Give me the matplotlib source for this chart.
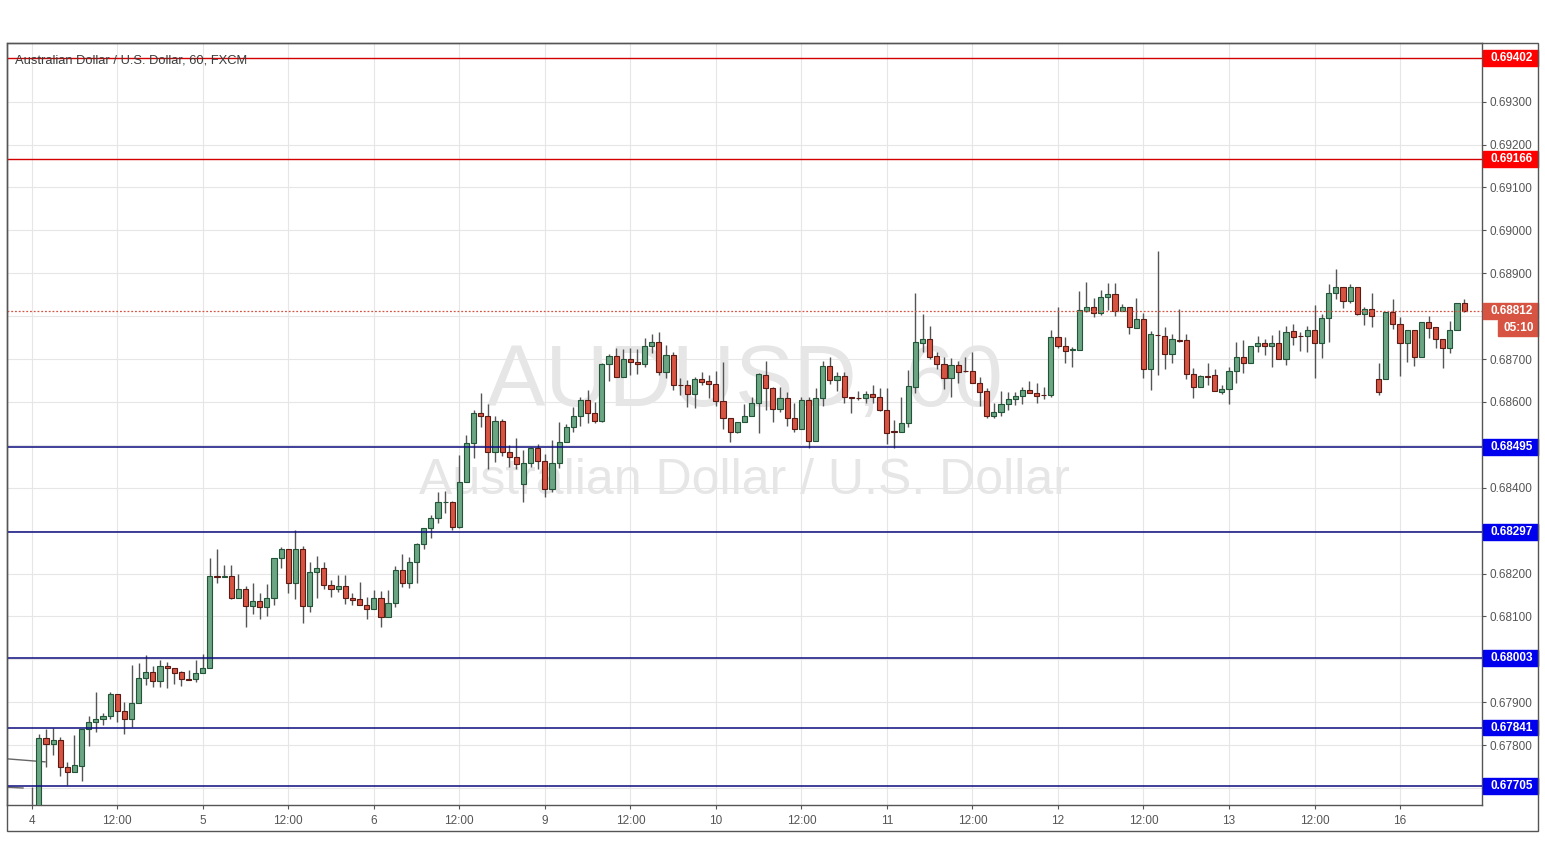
import numpy as np
import matplotlib
matplotlib.use('Agg')
from matplotlib import pyplot as plt
from matplotlib.patches import Rectangle

plt.rcParams['font.family'] = ['Liberation Sans', 'DejaVu Sans']

# hourly AUD/USD candles, index 0 = day 4 00:00 (weekend hours skipped)
opens = [0.67620, 0.67640, 0.67816, 0.67802, 0.67812, 0.67750, 0.67738, 0.67752, 0.67837, 0.67854,
         0.67862, 0.67867, 0.67919, 0.67880, 0.67860, 0.67897, 0.67956, 0.67970, 0.67949, 0.67985,
         0.67979, 0.67971, 0.67954, 0.67953, 0.67967, 0.67979, 0.68194, 0.68193, 0.68194, 0.68142,
         0.68163, 0.68124, 0.68136, 0.68121, 0.68142, 0.68235, 0.68256, 0.68177, 0.68256, 0.68125,
         0.68204, 0.68214, 0.68174, 0.68165, 0.68172, 0.68142, 0.68140, 0.68127, 0.68117, 0.68142,
         0.68099, 0.68132, 0.68208, 0.68179, 0.68227, 0.68269, 0.68305, 0.68329, 0.68366, 0.68367,
         0.68308, 0.68413, 0.68504, 0.68573, 0.68568, 0.68483, 0.68555, 0.68484, 0.68471, 0.68408,
         0.68457, 0.68492, 0.68462, 0.68396, 0.68457, 0.68507, 0.68541, 0.68566, 0.68604, 0.68573,
         0.68556, 0.68688, 0.68707, 0.68657, 0.68699, 0.68694, 0.68688, 0.68730, 0.68739, 0.68669,
         0.68709, 0.68640, 0.68639, 0.68618, 0.68653, 0.68649, 0.68641, 0.68603, 0.68562, 0.68531,
         0.68552, 0.68567, 0.68597, 0.68663, 0.68632, 0.68583, 0.68608, 0.68562, 0.68537, 0.68604,
         0.68510, 0.68608, 0.68684, 0.68651, 0.68660, 0.68611, 0.68610, 0.68608, 0.68618, 0.68611,
         0.68581, 0.68531, 0.68531, 0.68550, 0.68635, 0.68738, 0.68746, 0.68707, 0.68688, 0.68655,
         0.68686, 0.68672, 0.68672, 0.68643, 0.68625, 0.68566, 0.68576, 0.68594, 0.68606, 0.68614,
         0.68628, 0.68620, 0.68616, 0.68615, 0.68751, 0.68731, 0.68722, 0.68721, 0.68813, 0.68822,
         0.68808, 0.68845, 0.68851, 0.68813, 0.68822, 0.68773, 0.68793, 0.68676, 0.68756, 0.68754,
         0.68711, 0.68745, 0.68744, 0.68664, 0.68634, 0.68660, 0.68663, 0.68624, 0.68630, 0.68672,
         0.68704, 0.68690, 0.68730, 0.68737, 0.68731, 0.68737, 0.68700, 0.68765, 0.68754, 0.68754,
         0.68767, 0.68738, 0.68795, 0.68855, 0.68867, 0.68836, 0.68867, 0.68804, 0.68816, 0.68653,
         0.68653, 0.68809, 0.68781, 0.68737, 0.68768, 0.68705, 0.68786, 0.68774, 0.68746, 0.68725,
         0.68767, 0.68830]
highs = [0.67703, 0.67827, 0.67837, 0.67839, 0.67820, 0.67760, 0.67824, 0.67837, 0.67867, 0.67923,
         0.67876, 0.67923, 0.67919, 0.67900, 0.67987, 0.67991, 0.68010, 0.67985, 0.67998, 0.67994,
         0.67979, 0.67973, 0.67975, 0.67998, 0.68012, 0.68237, 0.68256, 0.68220, 0.68220, 0.68200,
         0.68171, 0.68178, 0.68155, 0.68176, 0.68235, 0.68261, 0.68256, 0.68302, 0.68264, 0.68226,
         0.68241, 0.68226, 0.68185, 0.68197, 0.68197, 0.68154, 0.68181, 0.68146, 0.68162, 0.68160,
         0.68162, 0.68218, 0.68245, 0.68238, 0.68272, 0.68305, 0.68336, 0.68389, 0.68393, 0.68370,
         0.68476, 0.68524, 0.68581, 0.68621, 0.68594, 0.68566, 0.68559, 0.68500, 0.68517, 0.68488,
         0.68496, 0.68503, 0.68479, 0.68511, 0.68552, 0.68548, 0.68589, 0.68611, 0.68628, 0.68600,
         0.68691, 0.68711, 0.68726, 0.68723, 0.68725, 0.68723, 0.68748, 0.68758, 0.68762, 0.68733,
         0.68716, 0.68655, 0.68651, 0.68659, 0.68669, 0.68663, 0.68672, 0.68694, 0.68562, 0.68554,
         0.68594, 0.68612, 0.68667, 0.68695, 0.68635, 0.68635, 0.68624, 0.68597, 0.68611, 0.68612,
         0.68632, 0.68695, 0.68704, 0.68670, 0.68670, 0.68611, 0.68625, 0.68625, 0.68639, 0.68632,
         0.68632, 0.68558, 0.68612, 0.68674, 0.68853, 0.68805, 0.68778, 0.68717, 0.68704, 0.68702,
         0.68695, 0.68705, 0.68717, 0.68657, 0.68632, 0.68597, 0.68625, 0.68622, 0.68624, 0.68635,
         0.68649, 0.68643, 0.68634, 0.68768, 0.68821, 0.68752, 0.68727, 0.68859, 0.68879, 0.68843,
         0.68861, 0.68877, 0.68878, 0.68828, 0.68822, 0.68843, 0.68807, 0.68766, 0.68952, 0.68774,
         0.68758, 0.68816, 0.68758, 0.68678, 0.68663, 0.68690, 0.68677, 0.68639, 0.68682, 0.68740,
         0.68744, 0.68730, 0.68754, 0.68747, 0.68756, 0.68768, 0.68777, 0.68782, 0.68764, 0.68778,
         0.68826, 0.68804, 0.68874, 0.68910, 0.68867, 0.68876, 0.68867, 0.68822, 0.68855, 0.68691,
         0.68810, 0.68839, 0.68799, 0.68768, 0.68768, 0.68787, 0.68800, 0.68774, 0.68746, 0.68789,
         0.68830, 0.68841]
lows = [0.67580, 0.67600, 0.67749, 0.67777, 0.67727, 0.67706, 0.67737, 0.67716, 0.67799, 0.67830,
        0.67847, 0.67862, 0.67853, 0.67825, 0.67843, 0.67897, 0.67939, 0.67936, 0.67935, 0.67934,
        0.67943, 0.67938, 0.67952, 0.67948, 0.67967, 0.67979, 0.68177, 0.68193, 0.68140, 0.68142,
        0.68075, 0.68105, 0.68095, 0.68102, 0.68127, 0.68214, 0.68154, 0.68141, 0.68084, 0.68111,
        0.68142, 0.68163, 0.68146, 0.68158, 0.68130, 0.68127, 0.68127, 0.68095, 0.68117, 0.68075,
        0.68099, 0.68121, 0.68169, 0.68167, 0.68179, 0.68256, 0.68282, 0.68317, 0.68340, 0.68301,
        0.68305, 0.68413, 0.68469, 0.68542, 0.68444, 0.68461, 0.68475, 0.68448, 0.68443, 0.68367,
        0.68449, 0.68443, 0.68378, 0.68391, 0.68445, 0.68507, 0.68531, 0.68544, 0.68550, 0.68550,
        0.68552, 0.68649, 0.68657, 0.68657, 0.68663, 0.68664, 0.68682, 0.68713, 0.68663, 0.68655,
        0.68628, 0.68616, 0.68587, 0.68585, 0.68639, 0.68608, 0.68591, 0.68538, 0.68507, 0.68527,
        0.68552, 0.68567, 0.68527, 0.68581, 0.68554, 0.68577, 0.68544, 0.68531, 0.68537, 0.68492,
        0.68510, 0.68590, 0.68642, 0.68626, 0.68597, 0.68573, 0.68604, 0.68597, 0.68598, 0.68579,
        0.68503, 0.68492, 0.68531, 0.68541, 0.68621, 0.68717, 0.68700, 0.68676, 0.68630, 0.68612,
        0.68643, 0.68670, 0.68643, 0.68590, 0.68562, 0.68563, 0.68566, 0.68581, 0.68593, 0.68595,
        0.68620, 0.68598, 0.68606, 0.68611, 0.68725, 0.68690, 0.68681, 0.68721, 0.68810, 0.68797,
        0.68803, 0.68814, 0.68801, 0.68813, 0.68758, 0.68773, 0.68655, 0.68628, 0.68663, 0.68676,
        0.68690, 0.68740, 0.68653, 0.68608, 0.68634, 0.68639, 0.68625, 0.68618, 0.68594, 0.68643,
        0.68667, 0.68690, 0.68717, 0.68709, 0.68682, 0.68699, 0.68686, 0.68733, 0.68719, 0.68717,
        0.68655, 0.68703, 0.68740, 0.68841, 0.68818, 0.68830, 0.68802, 0.68779, 0.68775, 0.68616,
        0.68653, 0.68770, 0.68661, 0.68694, 0.68684, 0.68705, 0.68750, 0.68726, 0.68680, 0.68713,
        0.68767, 0.68809]
closes = [0.67640, 0.67816, 0.67802, 0.67812, 0.67750, 0.67738, 0.67754, 0.67837, 0.67854, 0.67862,
          0.67868, 0.67919, 0.67880, 0.67860, 0.67897, 0.67956, 0.67970, 0.67949, 0.67985, 0.67979,
          0.67969, 0.67953, 0.67952, 0.67967, 0.67979, 0.68194, 0.68193, 0.68194, 0.68142, 0.68163,
          0.68124, 0.68136, 0.68121, 0.68142, 0.68235, 0.68256, 0.68177, 0.68256, 0.68125, 0.68204,
          0.68214, 0.68174, 0.68165, 0.68172, 0.68142, 0.68138, 0.68127, 0.68117, 0.68142, 0.68099,
          0.68132, 0.68208, 0.68179, 0.68227, 0.68269, 0.68305, 0.68329, 0.68366, 0.68367, 0.68308,
          0.68413, 0.68504, 0.68573, 0.68568, 0.68483, 0.68555, 0.68484, 0.68471, 0.68455, 0.68457,
          0.68492, 0.68462, 0.68396, 0.68457, 0.68507, 0.68541, 0.68566, 0.68604, 0.68573, 0.68556,
          0.68688, 0.68707, 0.68657, 0.68699, 0.68694, 0.68688, 0.68730, 0.68739, 0.68669, 0.68709,
          0.68639, 0.68639, 0.68618, 0.68653, 0.68647, 0.68641, 0.68603, 0.68562, 0.68531, 0.68552,
          0.68567, 0.68597, 0.68664, 0.68632, 0.68583, 0.68608, 0.68562, 0.68537, 0.68604, 0.68510,
          0.68608, 0.68684, 0.68651, 0.68660, 0.68611, 0.68610, 0.68609, 0.68618, 0.68611, 0.68581,
          0.68528, 0.68530, 0.68550, 0.68637, 0.68740, 0.68746, 0.68705, 0.68688, 0.68655, 0.68686,
          0.68670, 0.68671, 0.68643, 0.68624, 0.68566, 0.68576, 0.68594, 0.68606, 0.68614, 0.68628,
          0.68620, 0.68614, 0.68615, 0.68751, 0.68731, 0.68719, 0.68723, 0.68814, 0.68822, 0.68808,
          0.68845, 0.68851, 0.68813, 0.68822, 0.68774, 0.68793, 0.68676, 0.68758, 0.68755, 0.68711,
          0.68746, 0.68743, 0.68664, 0.68634, 0.68660, 0.68659, 0.68625, 0.68630, 0.68672, 0.68704,
          0.68690, 0.68730, 0.68737, 0.68731, 0.68737, 0.68699, 0.68764, 0.68752, 0.68753, 0.68767,
          0.68738, 0.68795, 0.68855, 0.68867, 0.68836, 0.68867, 0.68804, 0.68816, 0.68800, 0.68624,
          0.68809, 0.68781, 0.68737, 0.68768, 0.68705, 0.68786, 0.68773, 0.68747, 0.68725, 0.68767,
          0.68830, 0.68812]

# time axis labels, one every 12 candles
time_labels = ['4', '12:00', '5', '12:00', '6', '12:00', '9', '12:00', '10', '12:00',
               '11', '12:00', '12', '12:00', '13', '12:00', '16']

resistance_levels = [0.69402, 0.69166]
support_levels = [0.68495, 0.68297, 0.68003, 0.67841, 0.67705]
last_price = 0.68812
countdown = '05:10'

# old grey trendline stubs at the left edge
trend_x = [[-3.47, 1.87], [-3.47, -1.22]]
trend_y = [[0.67768, 0.67761], [0.67702, 0.67700]]

UP, DOWN = '#6ba583', '#d75442'
UP_EDGE, DOWN_EDGE = '#225437', '#5b1a13'
RES_LINE, RES_BOX = '#d40000', '#ff0000'
SUP_LINE, SUP_BOX = '#0c0c80', '#0000ee'

W, H = 1545, 868
fig = plt.figure(figsize=(W / 100, H / 100), dpi=100)
ax = fig.add_axes([7 / W, 1 - 805 / H, (1482 - 7) / W, (805 - 43) / H])
ylim = (0.676604, 0.694366)
ax.set_xlim(-3.47, 203.5)
ax.set_ylim(*ylim)

o = np.array(opens)
c = np.array(closes)
hi = np.array(highs)
lo = np.array(lows)
idx = np.arange(len(o))
up = c >= o

ax.vlines(idx, lo, hi, color='#555555', lw=1, zorder=2)
body_h = np.maximum(np.abs(c - o), 0.000012)
ax.bar(idx[up], body_h[up], bottom=np.minimum(o, c)[up], width=0.72,
       color=UP, edgecolor=UP_EDGE, lw=0.8, zorder=3)
ax.bar(idx[~up], body_h[~up], bottom=np.minimum(o, c)[~up], width=0.72,
       color=DOWN, edgecolor=DOWN_EDGE, lw=0.8, zorder=3)

for tx, ty in zip(trend_x, trend_y):
    ax.plot(tx, ty, color='#666666', lw=1, zorder=2)

for lvl in resistance_levels:
    ax.axhline(lvl, color=RES_LINE, lw=1, zorder=4)
for lvl in support_levels:
    ax.axhline(lvl, color=SUP_LINE, lw=1.1, zorder=4)
ax.axhline(last_price, color=DOWN, lw=0.9, ls=(0, (1.5, 1.5)), zorder=4)

# watermark + symbol title
ax.text(0.5, 0.553, 'AUDUSD, 60', transform=ax.transAxes, ha='center', va='center',
        fontsize=63, color='#e6e6e6', zorder=0.2)
ax.text(0.5, 0.425, 'Australian Dollar / U.S. Dollar', transform=ax.transAxes,
        ha='center', va='center', fontsize=36, color='#e6e6e6', zorder=0.2)
ax.text(0.0055, 0.9775, 'Australian Dollar / U.S. Dollar, 60, FXCM', transform=ax.transAxes,
        ha='left', va='center', fontsize=9.3, color='#3c3c3c', zorder=5)

ax.set_xticks(np.arange(0, 12 * len(time_labels), 12))
ax.set_xticklabels(time_labels)

# price scale: labels hidden where a level box sits on top of them
yt = np.arange(0.677, 0.6935, 0.001)
boxed = resistance_levels + support_levels + [last_price]
ax.set_yticks(yt)
ax.set_yticklabels(['' if min(abs(v - b) for b in boxed) < 0.0002 else f'{v:.5f}' for v in yt])
ax.yaxis.tick_right()
ax.tick_params(axis='both', length=3, width=0.8, color='#555555', labelcolor='#555555',
               labelsize=8.5)
ax.tick_params(axis='x', pad=4)
ax.tick_params(axis='y', pad=2.5)
ax.grid(color='#e6e6e6', lw=0.8)
ax.set_axisbelow(True)
for s in ax.spines.values():
    s.set_color('#555555')
    s.set_linewidth(1)

axr = fig.add_axes([1482 / W, 1 - 805 / H, (1538 - 1482) / W, (805 - 43) / H])
axr.set_xlim(0, 1)
axr.set_ylim(*ylim)
axr.axis('off')
bh = 0.00037


def price_box(y, txt, color, x0=0.02):
    axr.add_patch(Rectangle((x0, y - bh / 2), 1 - x0, bh, color=color, clip_on=False))
    axr.text(x0 + 0.13 if x0 < 0.1 else x0 + 0.1, y, txt, ha='left', va='center',
             fontsize=8.5, fontweight='bold', color='white')


for lvl in resistance_levels:
    price_box(lvl, f'{lvl:.5f}', RES_BOX)
for lvl in support_levels:
    price_box(lvl, f'{lvl:.5f}', SUP_BOX)
price_box(last_price, f'{last_price:.5f}', DOWN)
price_box(last_price - bh * 1.05, countdown, DOWN, x0=0.29)

fig.add_artist(Rectangle((7 / W, 1 - 831 / H), (1538 - 7) / W, (831 - 43) / H,
                         transform=fig.transFigure, fill=False, ec='#555555', lw=1))

fig.savefig('out.png', dpi=100, facecolor='white')
